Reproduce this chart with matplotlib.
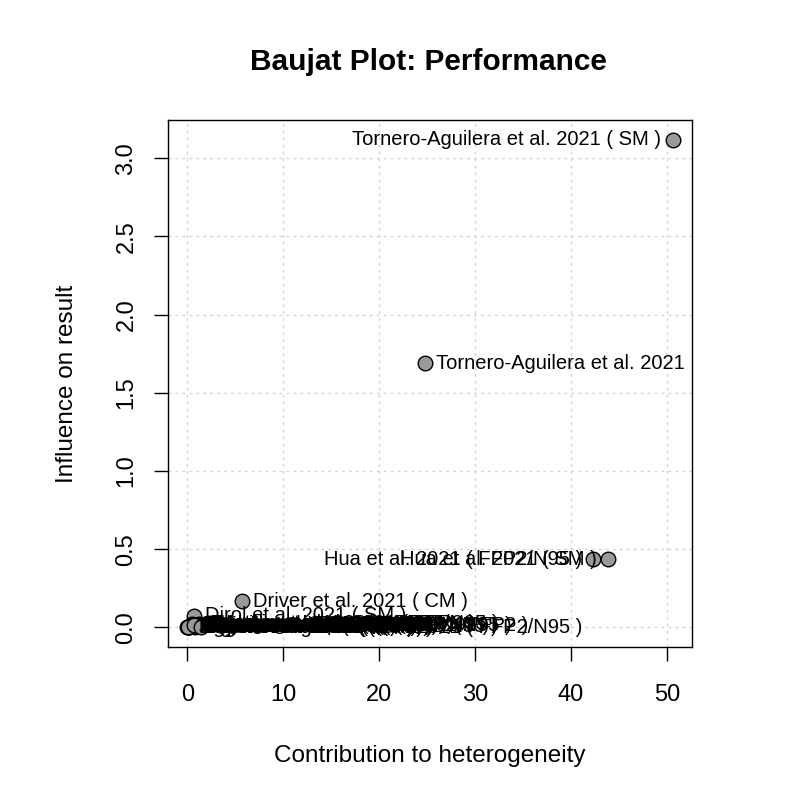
import matplotlib
matplotlib.use("Agg")
import matplotlib.pyplot as plt
import numpy as np

plt.rcParams['font.family'] = ['Liberation Sans', 'DejaVu Sans']

# studies (Baujat: contribution to heterogeneity vs influence on result)
studies = [
    "Tornero-Aguilera et al. 2021 ( SM )",
    "Tornero-Aguilera et al. 2021",
    "Hua et al. 2021 ( FFP2/N95 )",
    "Hua et al. 2021 ( SM )",
    "Driver et al. 2021 ( CM )",
    "Dirol et al. 2021 ( SM )",
    "Fikenzer et al. 2020 ( FFP2/N95 )",
    "Fikenzer et al. 2020 ( SM )",
    "Egger et al. 2021 ( SM )",
    "Egger et al. 2021 ( FFP2 )",
    "Epstein et al. 2021 ( SM )",
    "Epstein et al. 2021 ( FFP2/N95 )",
    "Shaw et al. 2020 ( CM )",
    "Shaw et al. 2020 ( SM )",
    "Mapelli et al. 2021 ( FFP2/N95 )",
    "Mapelli et al. 2021 ( SM )",
    "Lässing et al. 2020 ( SM )",
    "Morris et al. 2021 ( CM )",
    "Otsuka et al. 2022 ( SM )",
    "Ade et al. 2021 ( SM )",
    "Kampert et al. 2021 ( FFP2 )",
    "Person et al. 2018 ( SM )",
    "Rebmann et al. 2013 ( FFP2/N95 )",
    "Wong et al. 2020 ( SM )",
    "Jagim et al. 2021 ( CM )",
    "Yoshihara et al. 2021 ( SM )",
    "Ramos-Campo et al. 2021 ( FFP2 )",
    "Tornero-Aguilera et al. 2021 ( FFP2/N95 )",
]
contrib = [50.6, 24.8, 42.3, 43.9, 5.7, 0.7,
           0.1, 0.3, 0.5, 0.2, 0.9, 1.2, 0.4, 1.5,
           0.6, 0.0, 1.8, 0.2, 1.0, 0.3, 2.2, 0.8,
           0.5, 1.3, 0.1, 0.7, 1.6, 1.4]
influence = [3.12, 1.69, 0.437, 0.437, 0.167, 0.075,
             0.005, 0.012, 0.020, 0.003, 0.015, 0.025, 0.008, 0.018,
             0.010, 0.001, 0.022, 0.004, 0.013, 0.009, 0.028, 0.006,
             0.011, 0.016, 0.002, 0.019, 0.014, 0.000]
left_labels = {0, 2, 3}

x = np.array(contrib)
y = np.array(influence)

fig = plt.figure(figsize=(8, 8), dpi=100)
ax = fig.add_axes([0.21, 0.19125, 0.655, 0.65875])

ax.scatter(x, y, s=110, c='#999999', edgecolors='black', linewidths=1.0, zorder=3)

for i, lab in enumerate(studies):
    if i in left_labels:
        ax.annotate(lab, (x[i], y[i]), xytext=(-8, 0), textcoords='offset points',
                    ha='right', va='center', fontsize=14.5, zorder=4)
    else:
        ax.annotate(lab, (x[i], y[i]), xytext=(8, 0), textcoords='offset points',
                    ha='left', va='center', fontsize=14.5, zorder=4)

dx = (x.max() - x.min()) * 0.04
dy = (y.max() - y.min()) * 0.04
ax.set_xlim(x.min() - dx, x.max() + dx)
ax.set_ylim(y.min() - dy, y.max() + dy)

ax.set_xticks([0, 10, 20, 30, 40, 50])
ax.set_yticks([0.0, 0.5, 1.0, 1.5, 2.0, 2.5, 3.0])
ax.set_yticklabels(['0.0', '0.5', '1.0', '1.5', '2.0', '2.5', '3.0'],
                   rotation=90, va='center')
ax.tick_params(labelsize=17, length=10, width=1, direction='out')
ax.tick_params(axis='x', pad=16.5)
ax.tick_params(axis='y', pad=12)
ax.grid(True, color='lightgray', linestyle=(0, (2, 3)), linewidth=1)
ax.set_axisbelow(True)
for sp in ax.spines.values():
    sp.set_linewidth(1)

ax.set_xlabel('Contribution to heterogeneity', fontsize=17.5, labelpad=28)
ax.set_ylabel('Influence on result', fontsize=17.5, labelpad=27)
fig.text(0.535, 0.922, 'Baujat Plot: Performance', ha='center', va='center',
         fontsize=21.5, fontweight='bold')

fig.savefig('out.png', dpi=100)
